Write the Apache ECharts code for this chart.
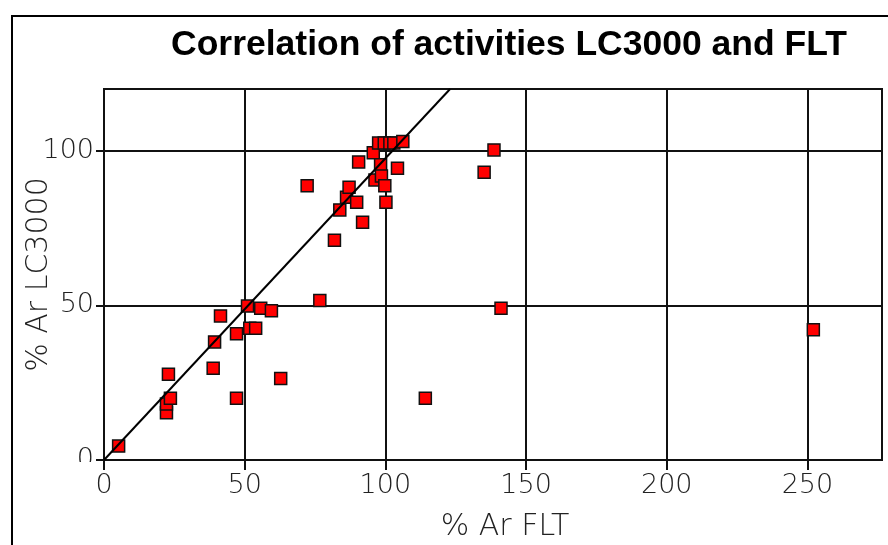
<!DOCTYPE html>
<html>
<head>
<meta charset="utf-8">
<script src="https://cdn.jsdelivr.net/npm/echarts@6/dist/echarts.min.js"></script>
<style>
html,body{margin:0;padding:0;background:#fff;}
#chart{width:888px;height:545px;}
</style>
</head>
<body>
<div id="chart"></div>
<script>
var titleText = 'Correlation of activities LC3000 and FLT';
var xAxisName = '% Ar FLT';
var yAxisName = '% Ar LC3000';
var xTicks = [0, 50, 100, 150, 200, 250];
var yTicks = [0, 50, 100];
var flt = [5.2, 22.2, 22.2, 23.6, 22.9, 38.8, 39.3, 41.4, 47.1, 47.1, 51.8, 53.9, 51.0, 55.7, 59.5, 62.8, 76.7, 72.2, 81.9, 83.8, 86.2, 87.1, 89.8, 90.5, 91.9, 95.7, 96.3, 98.3, 98.6, 99.8, 100.2, 104.3, 97.6, 99.6, 101.6, 103.0, 106.2, 114.2, 135.1, 138.6, 141.1, 252.1];
var lc3000 = [4.5, 15.3, 18.1, 20.0, 27.7, 29.7, 38.2, 46.6, 20.0, 40.8, 42.6, 42.6, 49.8, 49.1, 48.3, 26.4, 51.6, 88.7, 71.1, 80.9, 85.0, 88.2, 83.4, 96.4, 76.9, 99.4, 90.6, 95.5, 91.9, 88.7, 83.4, 94.4, 102.5, 102.5, 102.5, 102.5, 103.0, 20.0, 93.1, 100.3, 49.1, 42.1];
var refLineX = [0, 123];
var refLineY = [0, 120];

var points = flt.map(function (v, i) { return [v, lc3000[i]]; });
var refLine = refLineX.map(function (v, i) { return [v, refLineY[i]]; });

var FONT = 'DejaVu Sans';
var chart = echarts.init(document.getElementById('chart'), null, {renderer: 'canvas'});
chart.setOption({
  backgroundColor: '#ffffff',
  animation: false,
  title: {
    text: titleText,
    left: 504,
    top: 22,
    textAlign: 'center',
    textStyle: {fontFamily: 'Liberation Sans', fontWeight: 'bold', fontSize: 35.5, color: '#000'}
  },
  graphic: [
    {type: 'polyline', z: 100, shape: {points: [[12, 560], [12, 16], [900, 16]]}, style: {stroke: '#000', lineWidth: 2, fill: null}},
    {type: 'rect', z: 100, shape: {x: 60, y: 462, width: 34, height: 18}, style: {fill: '#fff'}}
  ],
  grid: {
    left: 104, right: 6, top: 89, bottom: 85,
    outerBoundsMode: 'none',
    containLabel: false,
    show: true, borderColor: '#111', borderWidth: 2, backgroundColor: '#fff'
  },
  xAxis: {
    type: 'value', min: 0, max: 276.5, interval: 50,
    name: xAxisName, nameLocation: 'middle', nameGap: 52, nameMoveOverlap: false,
    nameTextStyle: {fontFamily: FONT, fontSize: 30, color: '#222', fontWeight: 300, padding: [0, 0, 0, 24]},
    axisLine: {show: true, onZero: false, lineStyle: {color: '#111', width: 2}},
    axisTick: {show: true, length: 10, lineStyle: {color: '#111', width: 2}},
    axisLabel: {
      fontFamily: FONT, fontSize: 27, color: '#222', margin: 12, fontWeight: 300,
      showMaxLabel: false,
      formatter: function (v) { return xTicks.indexOf(v) >= 0 ? String(v) : ''; }
    },
    splitLine: {show: true, lineStyle: {color: '#111', width: 2}}
  },
  yAxis: {
    type: 'value', min: 0, max: 120, interval: 50,
    name: yAxisName, nameLocation: 'middle', nameGap: 50, nameRotate: 90, nameMoveOverlap: false,
    nameTextStyle: {fontFamily: FONT, fontSize: 30, color: '#222', fontWeight: 300},
    axisLine: {show: true, onZero: false, lineStyle: {color: '#111', width: 2}},
    axisTick: {show: true, length: 8, lineStyle: {color: '#111', width: 2}},
    axisLabel: {
      fontFamily: FONT, fontSize: 27, color: '#222', margin: 10, fontWeight: 300,
      showMaxLabel: false,
      formatter: function (v) { return yTicks.indexOf(v) >= 0 ? String(v) : ''; }
    },
    splitLine: {show: true, lineStyle: {color: '#111', width: 2}}
  },
  series: [
    {
      type: 'scatter',
      data: points,
      symbol: 'rect',
      symbolSize: 12,
      itemStyle: {color: '#ff0000', borderColor: '#111', borderWidth: 1.5, opacity: 1},
      z: 2
    },
    {
      type: 'line',
      data: refLine,
      showSymbol: false,
      symbol: 'none',
      lineStyle: {color: '#000', width: 2},
      z: 3,
      silent: true
    }
  ]
});
</script>
</body>
</html>
